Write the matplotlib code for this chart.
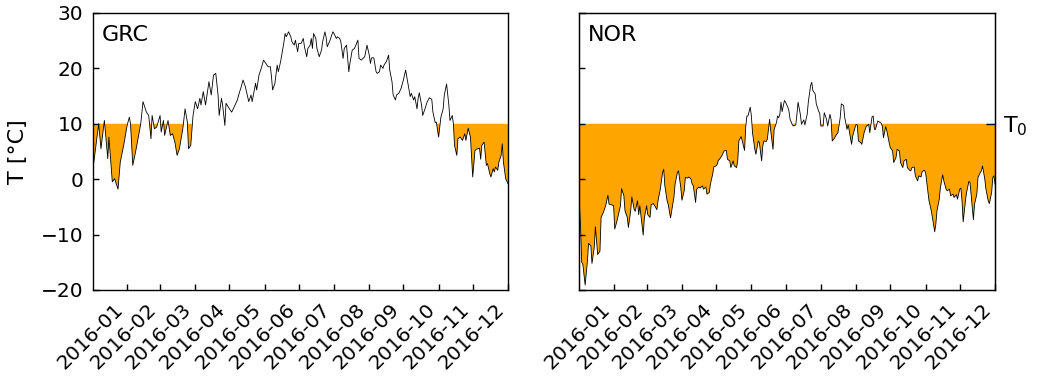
import numpy as np
import pandas as pd
import matplotlib
matplotlib.use('Agg')
import matplotlib.pyplot as plt
import matplotlib.dates as mdates

T0 = 10

# daily mean temperature 2016, day of year (0 = Jan 1) and value in degC
grc_day = [0, 5, 7, 10, 13, 14, 17, 19, 22, 24, 27, 30, 32, 33, 35, 38, 41, 42, 44, 47,
           49, 51, 52, 54, 56, 59, 60, 62, 63, 66, 68, 70, 72, 74, 76, 79, 81, 83, 84, 86,
           88, 90, 92, 94, 95, 97, 99, 102, 104, 106, 108, 110, 111, 113, 114, 116, 117, 120,
           122, 125, 127, 129, 130, 132, 134, 135, 137, 139, 140, 143, 144, 146, 148, 150,
           152, 154, 156, 157, 158, 160, 162, 163, 165, 166, 168, 169, 170, 172, 174, 175,
           177, 178, 180, 181, 183, 185, 186, 188, 189, 191, 192, 193, 194, 196, 197, 199,
           201, 202, 204, 205, 206, 208, 209, 211, 212, 214, 215, 217, 218, 220, 221, 223,
           225, 226, 228, 230, 233, 234, 236, 239, 241, 243, 244, 245, 247, 249, 250, 252,
           253, 255, 256, 258, 260, 261, 263, 264, 266, 267, 269, 271, 273, 275, 277, 279,
           280, 282, 283, 285, 286, 287, 289, 290, 292, 294, 296, 298, 299, 301, 302, 304,
           306, 308, 309, 311, 313, 314, 316, 317, 318, 320, 321, 323, 325, 327, 328, 330,
           332, 334, 336, 337, 340, 341, 342, 344, 346, 347, 349, 350, 352, 353, 354, 356,
           357, 359, 360, 361, 363, 365]
grc_temp = [1.9, 10.0, 5.5, 10.6, 3.7, 7.6, -0.5, 0.1, -1.8, 3.1, 6.1, 9.7, 11.2, 10.0, 2.5, 5.5, 8.8, 10.0, 14.0, 12.1,
            11.5, 7.3, 11.5, 9.1, 9.4, 11.5, 8.5, 10.6, 7.9, 10.6, 7.9, 8.2, 6.7, 4.3, 5.5, 9.1, 12.7, 10.3, 5.5, 6.1,
            11.5, 14.0, 12.7, 14.6, 13.4, 15.8, 13.4, 17.6, 15.2, 18.8, 19.1, 15.2, 11.5, 14.6, 13.4, 9.7, 13.7, 12.7,
            12.1, 13.4, 14.3, 15.8, 16.4, 17.9, 16.7, 15.8, 14.0, 15.2, 14.0, 17.3, 16.1, 18.8, 20.0, 21.5,
            20.9, 20.3, 20.3, 18.5, 16.1, 17.3, 20.6, 19.4, 21.2, 22.4, 24.8, 26.3, 25.7, 26.6, 25.7, 24.8,
            24.2, 25.1, 23.0, 24.5, 24.5, 25.4, 23.9, 22.1, 23.6, 24.2, 25.4, 23.6, 26.3, 25.4, 23.6, 22.1,
            23.3, 24.8, 26.6, 25.7, 23.9, 24.8, 25.4, 26.6, 26.3, 25.4, 25.7, 25.4, 24.8, 21.8, 23.6, 24.2,
            19.4, 20.9, 23.3, 23.6, 25.1, 21.8, 21.5, 22.1, 24.2, 22.4, 20.9, 21.9, 21.9, 19.4, 19.1, 19.4,
            20.6, 20.0, 20.6, 21.2, 22.4, 19.7, 17.6, 15.2, 14.3, 15.2, 15.5, 16.4, 17.9, 19.7, 17.3, 14.9,
            15.5, 14.3, 14.9, 12.7, 14.6, 15.6, 13.4, 11.5, 12.7, 14.0, 14.7, 14.4, 12.1, 10.2, 10.3, 7.6,
            11.2, 12.7, 15.2, 17.2, 13.4, 10.6, 11.5, 10.0, 6.1, 4.3, 7.3, 7.6, 7.0, 8.2, 7.0, 9.2,
            7.6, 0.4, 5.2, 5.4, 5.6, 3.6, 6.1, 6.7, 2.5, 2.8, 1.0, 0.4, 1.9, 1.3, 2.2, 1.6,
            3.1, 4.3, 6.4, 3.1, 0.1, -0.8]

nor_day = [0, 1, 2, 3, 5, 7, 8, 10, 11, 13, 14, 16, 18, 19, 21, 23, 25, 26, 28, 30,
           31, 33, 34, 36, 37, 39, 40, 42, 43, 45, 46, 48, 49, 51, 52, 53, 56, 57, 59, 60,
           62, 63, 65, 68, 69, 71, 73, 74, 75, 77, 78, 80, 81, 83, 84, 86, 87, 89, 90, 92,
           93, 95, 96, 98, 99, 100, 102, 103, 105, 106, 108, 109, 111, 112, 114, 115, 117, 118,
           120, 121, 122, 123, 125, 127, 129, 130, 132, 133, 135, 136, 138, 139, 140, 142, 143,
           145, 146, 147, 148, 150, 151, 152, 154, 155, 157, 158, 160, 161, 162, 164, 165, 167,
           168, 170, 171, 173, 174, 175, 176, 177, 178, 180, 181, 183, 184, 185, 187, 188, 190,
           191, 192, 194, 195, 197, 198, 200, 201, 203, 204, 205, 207, 208, 210, 211, 212, 214,
           215, 217, 218, 220, 221, 222, 224, 225, 227, 229, 230, 232, 233, 235, 236, 237, 239,
           240, 242, 243, 244, 245, 247, 248, 250, 252, 254, 255, 257, 258, 259, 260, 262, 263,
           265, 266, 267, 269, 270, 272, 273, 275, 276, 278, 279, 281, 282, 284, 285, 287, 288,
           290, 291, 292, 294, 295, 297, 298, 300, 301, 303, 304, 306, 307, 309, 310, 312, 313,
           314, 316, 317, 319, 320, 322, 323, 325, 326, 328, 329, 331, 332, 334, 335, 336, 337,
           339, 340, 342, 343, 345, 346, 347, 349, 350, 352, 353, 354, 356, 357, 359, 360, 362,
           363, 364, 365]
nor_temp = [-4.5, -8.7, -15.0, -15.4, -19.1, -14.8, -11.6, -12.0, -15.2, -12.3, -8.6, -13.6, -13.0, -6.9, -6.0, -4.8, -2.9, -4.5, -4.6, -4.8,
            -9.0, -7.5, -6.6, -4.8, -1.7, -3.0, -5.7, -6.9, -8.7, -5.7, -3.2, -5.4, -5.8, -3.9, -6.4, -4.8, -10.1, -7.0, -4.8, -6.4,
            -6.9, -4.6, -4.4, -5.5, -3.9, -1.8, 1.2, 1.8, -1.2, -3.9, -4.6, -7.0, -5.7, -3.2, -0.9, 1.2, 1.5, -1.5, -3.8, -2.1,
            0.3, 0.2, 0.4, 0.0, -0.9, -1.2, -4.2, -1.8, -1.4, -1.6, -1.2, -1.8, -1.4, -2.7, -2.4, -0.9, 0.9, 2.2,
            2.4, 2.7, 3.4, 3.6, 4.2, 5.1, 5.2, 3.6, 3.3, 2.1, 3.3, 2.4, 2.1, 3.3, 6.9, 7.7, 6.9,
            5.2, 9.3, 11.4, 11.4, 13.0, 11.4, 8.4, 5.4, 4.5, 6.9, 6.6, 3.3, 6.0, 6.9, 6.8, 7.2, 10.8,
            8.7, 5.4, 9.0, 10.2, 11.4, 11.1, 11.7, 13.9, 12.2, 14.2, 13.9, 13.0, 12.3, 10.8, 9.8, 9.6, 9.8,
            11.7, 13.9, 11.7, 9.9, 10.7, 9.8, 11.7, 13.9, 16.9, 17.5, 16.0, 15.4, 13.6, 12.3, 11.9, 9.6, 9.6,
            12.0, 10.8, 9.6, 11.7, 10.8, 6.9, 7.4, 7.8, 8.4, 11.1, 13.6, 13.3, 11.1, 9.0, 9.8, 8.7, 6.3,
            7.8, 9.3, 9.9, 9.8, 6.9, 6.6, 6.3, 8.4, 9.6, 9.9, 8.4, 11.3, 11.4, 9.0, 9.0, 10.5, 10.4,
            10.1, 9.6, 7.5, 9.5, 8.7, 6.6, 5.7, 5.1, 3.0, 3.9, 5.4, 5.1, 3.0, 2.1, 3.3, 3.6, 2.1,
            1.6, 1.5, 2.1, 2.2, 0.6, -0.3, 0.6, 0.4, 1.4, 1.6, 1.2, -2.1, -3.9, -5.7, -6.9, -9.5, -8.1,
            -5.7, -3.6, -1.5, 0.8, -0.3, -1.8, -2.1, -1.8, -3.0, -2.7, -3.3, -2.8, -3.6, -1.8, -1.6, -3.9, -7.7,
            -3.9, -2.4, -0.4, -0.6, -5.1, -7.3, -4.5, -2.7, 0.3, 1.2, 1.5, 2.4, 0.0, -1.8, -3.9, -4.4, -2.4,
            0.3, 0.6, -0.9]

start = pd.Timestamp('2016-01-01')
month_ends = pd.date_range('2016-01-31', '2016-12-31', freq='ME')

fig = plt.figure(figsize=(10.39, 3.84), dpi=100)
ax1 = fig.add_axes([0.0895, 0.2448, 0.3994, 0.7214])
ax2 = fig.add_axes([0.5577, 0.2448, 0.4, 0.7214], sharey=ax1)

for ax, name, day, temp in [(ax1, 'GRC', grc_day, grc_temp), (ax2, 'NOR', nor_day, nor_temp)]:
    t = mdates.date2num(start + pd.to_timedelta(day, unit='D'))
    temp = np.array(temp)
    ax.fill_between(t, temp, T0, where=temp < T0, interpolate=True, color='orange', lw=0)
    ax.plot(t, temp, color='k', lw=0.6)
    ax.set_xlim(mdates.date2num(start), mdates.date2num(pd.Timestamp('2016-12-31')))
    ax.set_xticks(mdates.date2num(month_ends))
    ax.xaxis.set_major_formatter(mdates.DateFormatter('%Y-%m'))
    ax.tick_params(direction='in', length=4.5, width=1, labelsize=14.5, pad=7,
                   top=False, right=False)
    plt.setp(ax.get_xticklabels(), rotation=45, ha='right')
    ax.text(0.02, 0.955, name, transform=ax.transAxes, fontsize=16, ha='left', va='top')
    for s in ax.spines.values():
        s.set_linewidth(1)

ax1.set_ylim(-20, 30)
ax1.set_yticks(range(-20, 31, 10))
ax1.set_ylabel('T [°C]', fontsize=16)
ax1.yaxis.set_label_coords(-0.157, 0.5)
ax2.tick_params(labelleft=False)

# threshold marker on the right side
axr = ax2.twinx()
axr.set_ylim(-20, 30)
axr.set_yticks([T0])
axr.set_yticklabels([r'T$_0$'])
axr.tick_params(direction='in', length=6.5, width=1, labelsize=16, pad=6)

fig.savefig('out.png', dpi=100)
